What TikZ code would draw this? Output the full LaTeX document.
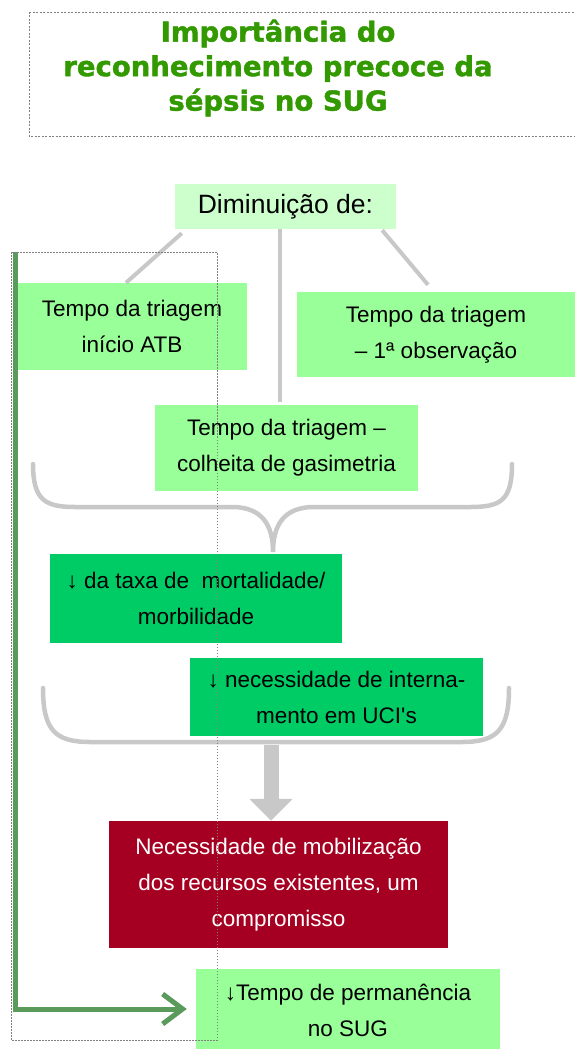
\documentclass[tikz,border=0pt]{standalone}
\usepackage{fontspec}
\usepackage{tikz}
\usetikzlibrary{arrows.meta}
\newfontfamily\caixafont{Liberation Sans}
\newfontfamily\titulofont{DejaVu Sans}[BoldFeatures={FakeBold=1.5}]
\definecolor{verdeclaro}{HTML}{99FF99}
\definecolor{verdepalido}{HTML}{CCFFCC}
\definecolor{verdeforte}{HTML}{00CC66}
\definecolor{vermelho}{HTML}{A50021}
\definecolor{cinza}{HTML}{C8C8C8}
\definecolor{verdeseta}{HTML}{5A9A5A}
\definecolor{verdetitulo}{HTML}{339900}

\begin{document}
\begin{tikzpicture}[x=1pt, y=-1pt]
\tikzstyle{caixa} = [rectangle, inner sep=0pt, align=center, font=\caixafont\fontsize{22.5}{36}\selectfont]
\tikzstyle{clara} = [caixa, fill=verdeclaro]
\tikzstyle{forte} = [caixa, fill=verdeforte]
\tikzstyle{ligacao} = [draw=cinza, line width=4pt]
\tikzstyle{chaveta} = [draw=cinza, line width=4.5pt, line cap=round]
\tikzstyle{pontos} = [draw=gray, line width=0.8pt, dash pattern=on 1.5pt off 1.5pt]

\useasboundingbox (0,0) rectangle (575,1049);

\draw[pontos, dash pattern=on 2pt off 1.5pt] (29,12) rectangle (585,136);
\node[align=center, text=verdetitulo, font=\titulofont\bfseries\fontsize{27.5}{34.5}\selectfont] (titulo) at (278,68) {Importância do\\reconhecimento precoce da\\sépsis no SUG};

\node[caixa, fill=verdepalido, minimum width=221pt, minimum height=45pt, font=\caixafont\fontsize{26.5}{30}\selectfont] (diminuicao) at (285.5,206.5) {Diminuição de:};
\node[clara, minimum width=230pt, minimum height=87pt] (atb) at (132,326.5) {Tempo da triagem\\início ATB};
\node[clara, minimum width=278pt, minimum height=85pt] (observacao) at (436,334.5) {Tempo da triagem\\– 1ª observação};
\node[clara, minimum width=263pt, minimum height=86pt] (gasimetria) at (286.5,448) {Tempo da triagem –\\colheita de gasimetria};

\draw[ligacao] ([xshift=7pt, yshift=-4pt]diminuicao.south west) -- ([xshift=-6pt]atb.north);
\draw[ligacao] ([xshift=-5.5pt]diminuicao.south) -- ([xshift=-6.5pt, yshift=3pt]gasimetria.north);
\draw[ligacao] ([xshift=-14pt, yshift=-1pt]diminuicao.south east) -- ([xshift=-8pt, yshift=7pt]observacao.north);

\draw[chaveta] (33,464) .. controls (33,500) and (45,507) .. (75,507) -- (232,507) .. controls (262,507) and (273,525) .. (273,552) .. controls (273,525) and (284,507) .. (314,507) -- (471,507) .. controls (501,507) and (512,500) .. (512,464);

\node[forte, minimum width=292pt, minimum height=89pt] (mortalidade) at (196,598.5) {↓ da taxa de~ mortalidade/\\morbilidade};
\draw[chaveta] (43,688) .. controls (43,730) and (55,742) .. (90,742) -- (462,742) .. controls (497,742) and (509,730) .. (509,688);
\node[forte, minimum width=293pt, minimum height=78pt] (uci) at (336.5,697) {↓ necessidade de interna-\\mento em UCI's};

\node[caixa, fill=vermelho, text=white, minimum width=339pt, minimum height=127pt] (recursos) at (278.5,884.5) {Necessidade de mobilização\\dos recursos existentes, um\\compromisso};
\node[clara, minimum width=304pt, minimum height=82pt] (permanencia) at (348,1010) {↓Tempo de permanência\\no SUG};

\coordinate (fundochaveta) at (271,745);
\draw[cinza, line width=15pt, -{Triangle[width=42pt, length=22pt]}] (fundochaveta) -- ([xshift=-7.5pt]recursos.north);

\coordinate (inicio) at (15,252);
\draw[verdeseta, line width=5pt, -{Straight Barb[length=20pt, width=30pt]}] (inicio) |- ([xshift=-9pt, yshift=1pt]permanencia.west);

\draw[pontos] (11,252) rectangle (217,1040);
\end{tikzpicture}
\end{document}
